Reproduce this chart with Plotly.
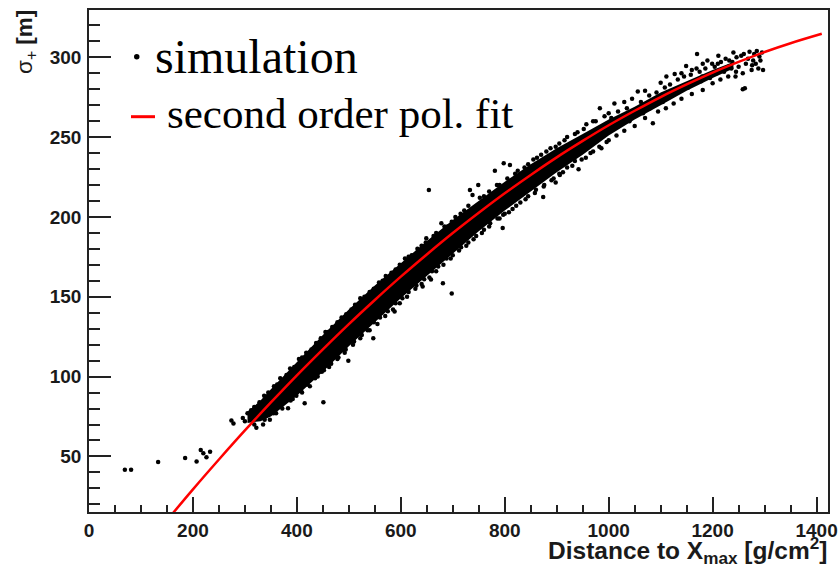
import plotly.graph_objects as go

# ---------------- data ----------------
# second order polynomial fit, sampled along the drawn red curve
fit_x = [160, 200, 250, 300, 350, 400, 450, 500, 550, 600, 650, 700, 750, 800,
         850, 900, 950, 1000, 1050, 1100, 1150, 1200, 1250, 1300, 1350, 1410]
fit_y = [13.9, 29.4, 48.1, 66.3, 83.8, 100.8, 117.1, 132.9, 148.0, 162.6, 176.5,
         189.9, 202.6, 214.8, 226.3, 237.3, 247.6, 257.4, 266.5, 275.1, 283.0,
         290.4, 297.1, 303.3, 308.8, 314.7]

# dense core of the simulated points (upper / lower edge of the black band)
band_x = [305, 330, 350, 400, 450, 500, 550, 600, 650, 700, 750, 800, 850, 900,
          950, 1000, 1050, 1100, 1150, 1200, 1240]
band_upper = [78, 85, 92, 109, 126, 142, 157, 171, 185, 198, 210, 222, 233, 243,
              252, 261, 269, 278, 285, 292, 297]
band_lower = [71, 72, 75, 88, 103, 119, 134, 149, 163, 177, 191, 204, 216, 228,
              239, 251, 261, 270, 279, 287, 293]

# individual simulated points: outliers
out_x = [69, 81, 133, 185, 207, 215, 220, 226, 233, 274, 278, 296, 300,
         383, 415, 451, 499, 547, 588, 654, 642, 658, 681, 698, 796, 797, 874,
         898, 906, 942, 733, 738, 749, 781, 798, 810, 649, 678, 983, 1056,
         1085, 1258, 1262, 1170, 1211, 1271]
out_y = [41.6, 41.6, 46.5, 49.0, 46.8, 54.0, 52.0, 49.5, 53.0, 72.5, 70.6, 74, 72,
         80.2, 83.3, 84.0, 110.0, 124.0, 140.7, 216.9, 156.4, 160.8, 158.5, 152.0,
         193.0, 201.3, 212.5, 221.5, 226.3, 229.9, 216.9, 213.8, 220, 229, 233.6,
         232.6, 186.7, 196, 268, 278.5, 258.7, 280, 280.6, 302, 301, 303.5]

# points along the upper edge of the band
up_x = [305, 312, 318, 328, 337, 345, 356, 362, 368, 380, 387, 395, 404, 410,
        418, 428, 437, 446, 455, 460, 468, 478, 486, 495, 505, 512, 522, 530,
        540, 548, 558, 565, 571, 582, 590, 598, 608, 615, 621, 632, 640, 648,
        663, 668, 684, 690, 698, 705, 715, 722, 730, 752, 760, 770, 785, 790,
        805, 820, 825, 838, 845, 855, 862, 870, 880, 888, 898, 905, 915, 920,
        935, 940, 952, 957, 970, 975, 992, 1000, 1011, 1030, 1045, 1070, 1100,
        1111, 1127, 1140, 1149, 1160, 1169, 1181, 1190, 1204, 1225, 1240, 1255,
        1285, 1290]
up_y = [77, 79, 81, 84, 88, 90, 94, 95, 99, 101, 105, 106, 111, 112,
        115, 117, 121, 124, 128, 128, 131, 134, 137, 139, 142, 145, 149, 150,
        153, 155, 159, 160, 163, 165, 167, 170, 174, 175, 176, 180, 182, 184,
        188, 190, 194, 194, 197, 200, 202, 204, 207, 212, 213, 216, 220, 220,
        224, 227, 229, 231, 233, 236, 237, 239, 241, 243, 244, 246, 248, 250,
        252, 253, 255, 258, 260, 260, 263, 265, 271, 272, 274, 279, 284,
        288, 289.5, 290, 294.6, 292, 293, 296, 298, 294, 299, 303, 301,
        304, 300.4]

# points along the lower edge of the band
lo_x = [318, 322, 335, 338, 348, 355, 360, 370, 372, 388, 392, 399, 408, 410,
        420, 425, 435, 440, 448, 452, 462, 466, 478, 480, 492, 494, 508, 510,
        522, 525, 536, 540, 548, 555, 560, 570, 575, 585, 590, 598, 603, 612,
        615, 628, 630, 640, 645, 655, 660, 668, 672, 682, 688, 696, 700, 712,
        716, 726, 730, 740, 745, 756, 760, 770, 772, 786, 790, 800, 808, 815,
        822, 830, 840, 845, 858, 860, 875, 876, 890, 894, 905, 912, 920, 930,
        935, 948, 956, 965, 970, 982, 986, 996, 1000, 1015, 1030, 1050, 1070,
        1095, 1110, 1125, 1140, 1160, 1181, 1200, 1215, 1230, 1245, 1275, 1297]
lo_y = [70, 68, 70, 73, 73, 77, 77, 82, 80, 85, 86, 88, 91, 90,
        95, 94, 99, 100, 103, 104, 106, 108, 111, 112, 115, 117, 120, 122,
        124, 126, 129, 129, 134, 133, 137, 138, 141, 142, 146, 146, 149, 150,
        153, 155, 157, 158, 161, 162, 166, 166, 169, 170, 174, 174, 176, 179,
        181, 182, 184, 186, 188, 190, 192, 194, 196, 199, 199, 202, 203, 205,
        207, 209, 211, 213, 215, 217, 219, 220, 223, 224, 227, 228, 231, 232,
        235, 236, 237, 240, 241, 244, 243, 247, 248, 251, 254, 257, 262,
        266, 268, 271, 274, 277, 279.5, 283.7, 286, 288, 291, 292, 292]

# points scattered in the sparse upper part of the band
top_x = [1005, 1018, 1022, 1035, 1040, 1062, 1066, 1078, 1080, 1092, 1104, 1108,
         1118, 1122, 1133, 1136, 1145, 1153, 1158, 1165, 1175, 1178, 1186, 1195,
         1199, 1208, 1216, 1222, 1232, 1236, 1246, 1250, 1260, 1264, 1268, 1280,
         1283, 1292, 1295, 1288, 1276, 1258, 1244, 1230, 1210, 1180, 1220, 1238,
         1196, 1150, 1120, 1278]
top_y = [262, 266, 258, 268, 260, 272, 265, 276, 268, 278, 272, 281,
         283, 276, 286, 279, 288, 281, 289, 284, 291, 285, 293, 287,
         296, 290, 297, 291, 298, 293, 300, 294, 302, 296, 299, 302,
         296, 298, 303, 293, 295, 290, 288, 294, 296, 288, 292, 297,
         289, 281, 277, 298]

# axis settings
x_range = [0, 1422]
y_range = [15.2, 329.6]
x_ticks = [0, 200, 400, 600, 800, 1000, 1200, 1400]
y_ticks = [50, 100, 150, 200, 250, 300]
x_title = "<b>Distance to X<sub>max</sub> [g/cm<sup>2</sup>]</b>"
y_title = "σ<sub>+</sub> <b>[m]</b>"
legend_labels = ["simulation", "second order pol. fit"]

sim_x = out_x + up_x + lo_x + top_x
sim_y = out_y + up_y + lo_y + top_y

# ---------------- figure ----------------
W, H = 838, 571
L, R, T, B = 89, 10, 10, 59
pw, ph = W - L - R, H - T - B


def px(xp):
    return (xp - L) / pw


def py(yp):
    return (H - B - yp) / ph


fig = go.Figure()

fig.add_trace(go.Scatter(
    x=band_x + band_x[::-1], y=band_upper + band_lower[::-1],
    fill="toself", fillcolor="black", line=dict(width=0, color="black"),
    mode="lines", hoverinfo="skip", showlegend=False))

fig.add_trace(go.Scatter(
    x=sim_x, y=sim_y, mode="markers",
    marker=dict(color="black", size=4.5, line=dict(width=0)),
    showlegend=False))

fig.add_trace(go.Scatter(
    x=fit_x, y=fit_y, mode="lines",
    line=dict(color="#ff0000", width=2.5, shape="spline"),
    showlegend=False))

tickfont = dict(family="Liberation Sans, Arial, sans-serif", size=19,
                color="#1a1a1a")

fig.update_xaxes(
    range=x_range, autorange=False, showgrid=False, zeroline=False,
    showline=True, mirror=True, linecolor="#222", linewidth=1.5,
    ticks="inside", ticklen=15, tickwidth=1.5, tickcolor="#222",
    tickmode="array", tickvals=x_ticks,
    ticktext=["<b>%d</b>" % v for v in x_ticks],
    tickfont=tickfont, automargin=False, ticklabelstandoff=0,
    minor=dict(ticks="inside", ticklen=7, dtick=50, tick0=0, tickwidth=1.5,
               tickcolor="#222", showgrid=False))

fig.update_yaxes(
    range=y_range, autorange=False, showgrid=False, zeroline=False,
    showline=True, mirror=True, linecolor="#222", linewidth=1.5,
    ticks="inside", ticklen=22, tickwidth=1.5, tickcolor="#222",
    tickmode="array", tickvals=y_ticks,
    ticktext=["<b>%d</b>" % v for v in y_ticks],
    tickfont=tickfont, automargin=False, ticklabelstandoff=2,
    minor=dict(ticks="inside", ticklen=11, dtick=10, tick0=0, tickwidth=1.5,
               tickcolor="#222", showgrid=False))

annotations = [
    dict(text=x_title, xref="paper", yref="paper", x=px(829), y=py(531),
         xanchor="right", yanchor="top", showarrow=False,
         font=dict(family="Liberation Sans, Arial, sans-serif", size=24.5,
                   color="#1a1a1a")),
    dict(text=y_title, xref="paper", yref="paper", x=px(26), y=py(8),
         xanchor="center", yanchor="top", textangle=-90, showarrow=False,
         font=dict(family="Liberation Sans, Arial, sans-serif", size=22.5,
                   color="#1a1a1a")),
    dict(text=legend_labels[0], xref="paper", yref="paper", x=px(153),
         y=py(56), xanchor="left", yanchor="middle", showarrow=False,
         font=dict(family="Liberation Serif, Times New Roman, serif", size=48,
                   color="black")),
    dict(text=legend_labels[1], xref="paper", yref="paper", x=px(165),
         y=py(113.5), xanchor="left", yanchor="middle", showarrow=False,
         font=dict(family="Liberation Serif, Times New Roman, serif", size=43,
                   color="black")),
]

shapes = [
    dict(type="circle", xref="paper", yref="paper",
         x0=px(134), x1=px(139.5), y0=py(54), y1=py(59.5),
         fillcolor="black", line=dict(width=0)),
    dict(type="line", xref="paper", yref="paper",
         x0=px(131), x1=px(155), y0=py(116.7), y1=py(116.7),
         line=dict(color="#ff0000", width=3)),
]

fig.update_layout(
    width=W, height=H, autosize=False,
    margin=dict(l=L, r=R, t=T, b=B, pad=0),
    paper_bgcolor="white", plot_bgcolor="white",
    showlegend=False, annotations=annotations, shapes=shapes)

fig.write_html("out.html")
